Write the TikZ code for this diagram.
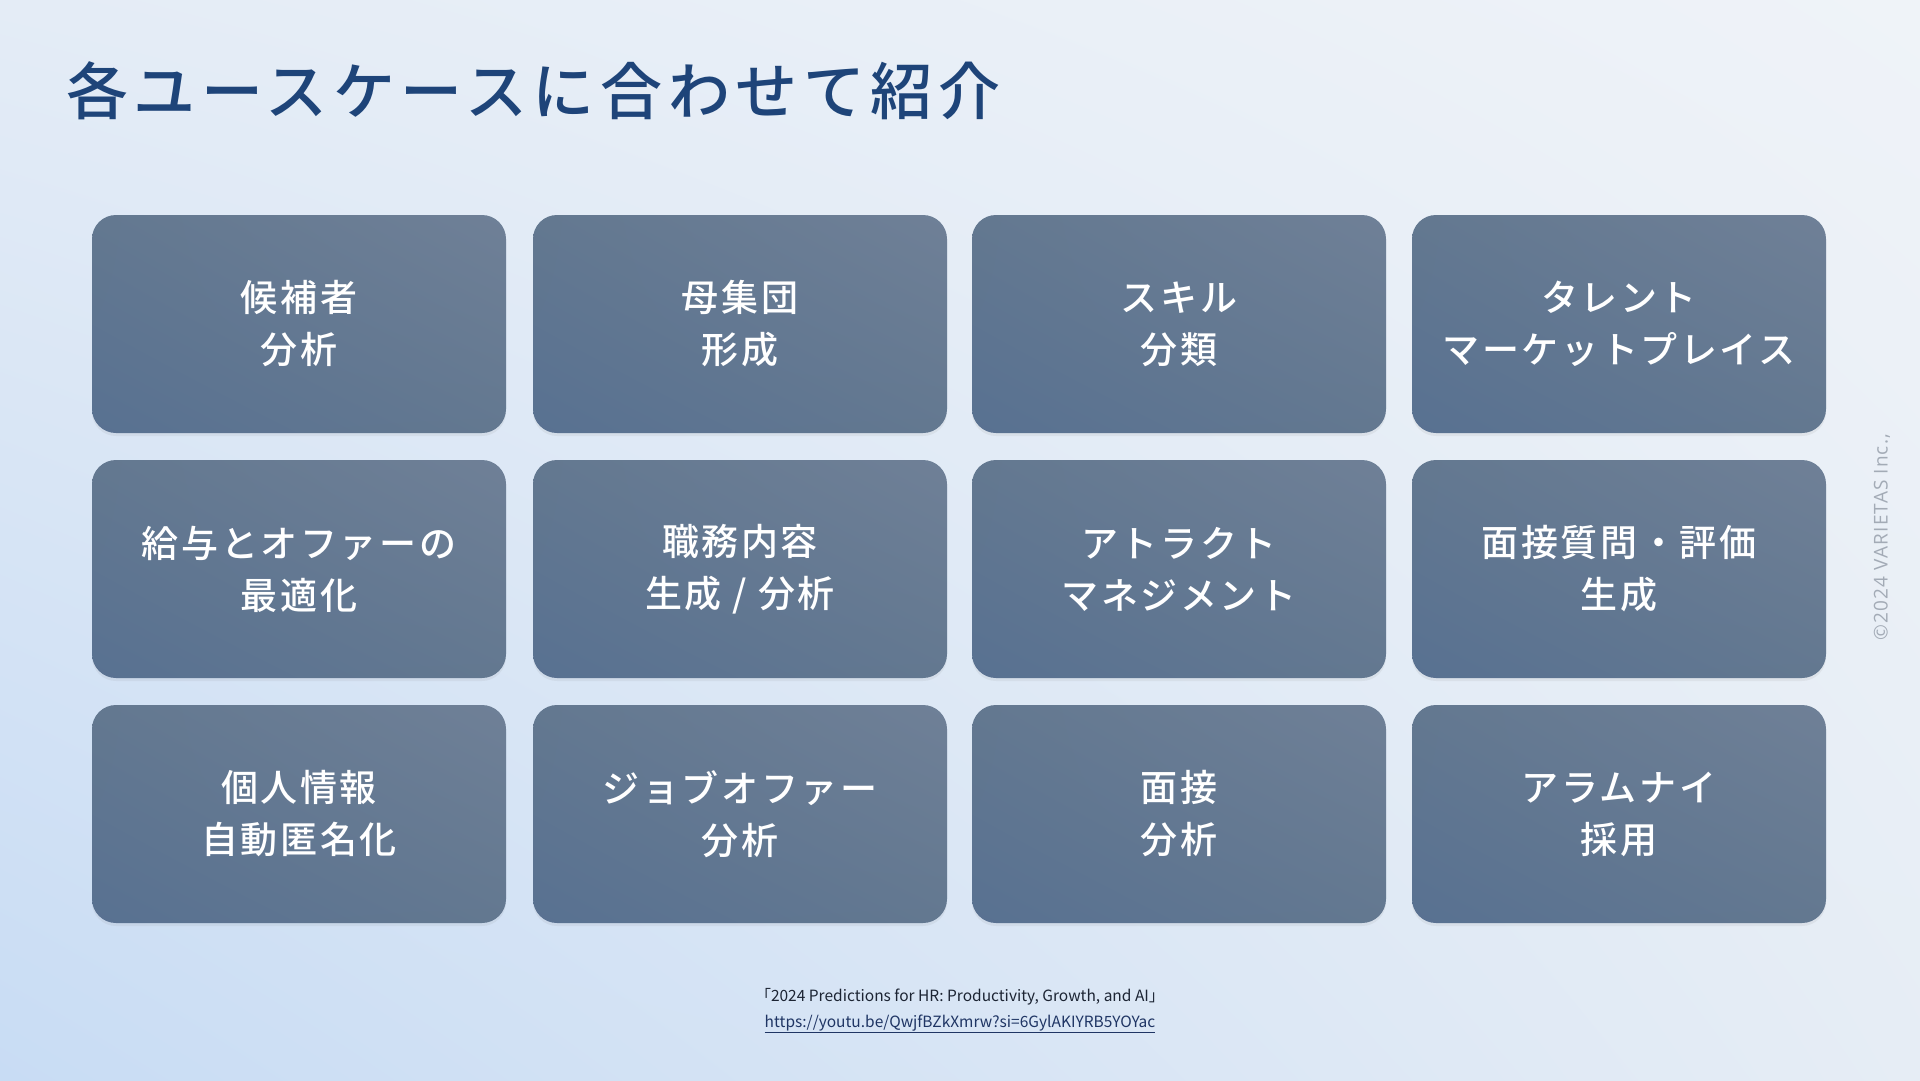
\documentclass[tikz,border=0pt]{standalone}
\usepackage{fontspec}
\usetikzlibrary{shadows,shadings}
\newfontfamily\jptitle{Noto Sans CJK JP}[UprightFont=* Medium, LetterSpace=9]
\newfontfamily\jpbox{Noto Sans CJK JP}[UprightFont=* Medium, LetterSpace=7]
\newfontfamily\jp{Noto Sans CJK JP}
\newfontfamily\copyfont[LetterSpace=6]{Open Sans}
\definecolor{bgTL}{HTML}{E4ECF6}
\definecolor{bgTR}{HTML}{EFF3F8}
\definecolor{bgBL}{HTML}{C8DCF4}
\definecolor{bgBR}{HTML}{E6EDF5}
\definecolor{boxLL}{HTML}{587191}
\definecolor{boxUR}{HTML}{6F8097}
\definecolor{boxM}{HTML}{637890}
\definecolor{titlecol}{HTML}{1E4479}
\definecolor{footcol}{HTML}{1C2433}
\definecolor{linkcol}{HTML}{1F3564}
\definecolor{copycol}{HTML}{A3ABB6}
\tikzset{
  card/.style={rounded corners=24pt, minimum width=414pt, minimum height=218pt,
    lower left=boxLL, upper right=boxUR, upper left=boxM, lower right=boxM,
    drop shadow={opacity=0.10, shadow xshift=0pt, shadow yshift=-3pt},
    text=white, align=center, inner sep=0pt,
    font=\jpbox\fontsize{37pt}{52pt}\selectfont},
  foot/.style={inner sep=0pt, font=\jp\fontsize{15.5pt}{19pt}\selectfont}
}
\begin{document}
\begin{tikzpicture}[x=1pt,y=-1pt]
\useasboundingbox (0,0) rectangle (1920,1080);
\shade[upper left=bgTL, upper right=bgTR, lower left=bgBL, lower right=bgBR] (0,1080) rectangle (1920,0);
\node[anchor=west, inner sep=0pt, text=titlecol, font=\jptitle\fontsize{62pt}{70pt}\selectfont] (title) at (66,91) {各ユースケースに合わせて紹介};
% row 1
\node[card] (c11) at (299,324) {候補者\\分析};
\node[card] (c12) at (740,324) {母集団\\形成};
\node[card] (c13) at (1179,324) {スキル\\分類};
\node[card] (c14) at (1619,324) {タレント\\マーケットプレイス};
% row 2
\node[card] (c21) at (299,569) {給与とオファーの\\最適化};
\node[card] (c22) at (740,569) {職務内容\\生成 / 分析};
\node[card] (c23) at (1179,569) {アトラクト\\マネジメント};
\node[card] (c24) at (1619,569) {面接質問・評価\\生成};
% row 3
\node[card] (c31) at (299,814) {個人情報\\自動匿名化};
\node[card] (c32) at (740,814) {ジョブオファー\\分析};
\node[card] (c33) at (1179,814) {面接\\分析};
\node[card] (c34) at (1619,814) {アラムナイ\\採用};
% footer
\node[foot, text=footcol] (src) at (960,997) {「2024 Predictions for HR: Productivity, Growth, and AI」};
\node[foot, text=linkcol] (link) at (960,1024) {\underline{https://youtu.be/QwjfBZkXmrw?si=6GylAKIYRB5YOYac}};
% copyright
\node[rotate=90, inner sep=0pt, text=copycol, font=\copyfont\fontsize{19pt}{22pt}\selectfont] (copy) at (1882,537) {©2024 VARIETAS Inc.,};
\end{tikzpicture}
\end{document}
